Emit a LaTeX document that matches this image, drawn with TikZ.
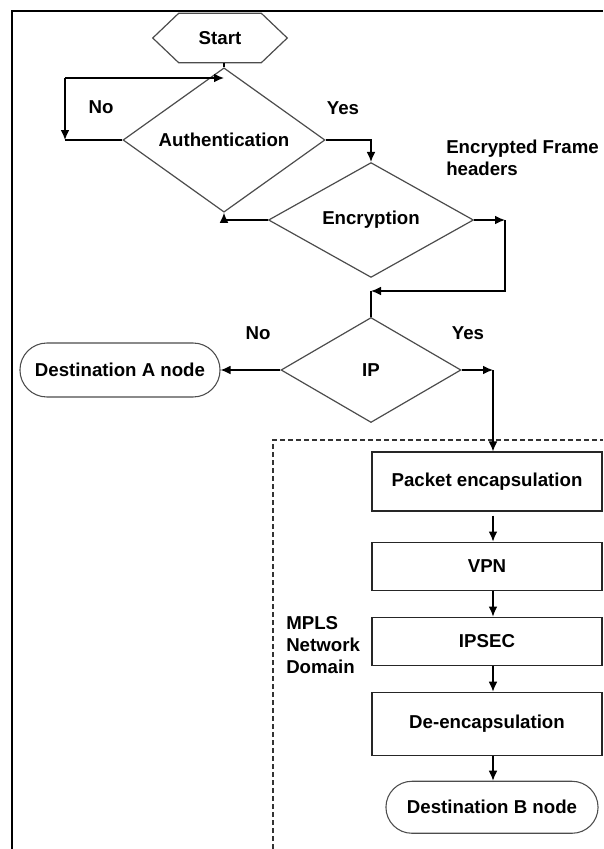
\documentclass[tikz,border=0pt]{standalone}
\usepackage{fontspec}
\setmainfont{Liberation Sans}
\usepackage{xcolor}
\usepackage{tikz}
\usetikzlibrary{arrows, arrows.meta}
\usetikzlibrary{positioning}
\usetikzlibrary{shapes.geometric, shapes.misc}
\tikzstyle{process} = [rectangle, minimum width=172.5pt, text centered, draw=black!85, line width=0.8pt, font=\fcfont]
\tikzstyle{decision} = [diamond, inner sep=0pt, text centered, draw=black!70, line width=0.9pt, font=\fcfont]
\tikzstyle{terminal} = [rounded rectangle, text centered, draw=black!70, line width=0.8pt, font=\fcfont]
\tikzstyle{tag} = [font=\fcfont, inner sep=0pt]
\tikzstyle{arrow} = [line width=0.9pt,->,>={Latex[length=7.5pt,width=6.5pt]}]
\tikzstyle{link} = [line width=0.9pt]
\newcommand{\fcfont}{\fontsize{14}{16.5}\selectfont\bfseries}

\begin{document}
\begin{tikzpicture}[x=0.75pt, y=-0.75pt]
    \useasboundingbox (0,0) rectangle (603,849);
    \draw[line width=0.9pt] (12,849) -- (12,11) -- (603,11);
    % top part
    \node(start)[minimum width=100.5pt, minimum height=36.75pt, inner sep=0pt, font=\fcfont] at (220,38) {Start};
    \draw[draw=black!70, line width=0.9pt] (start.west) -- ([xshift=19.5pt]start.north west) -- ([xshift=-19.5pt]start.north east) -- (start.east) -- ([xshift=-19.5pt]start.south east) -- ([xshift=19.5pt]start.south west) -- cycle;
    \node(auth)[decision, minimum width=151.5pt, minimum height=78pt] at (224,140) {Authentication};
    \node(encr)[decision, minimum width=153.75pt, minimum height=80pt] at (371,220) {Encryption};
    \node(ip)[decision, minimum width=135pt, minimum height=78.75pt] at (371,370) {IP};
    \node(destA)[terminal, minimum width=156.75pt, minimum height=40.5pt] at (120,370) {Destination A node};
    % MPLS domain
    \node(packet)[process, minimum height=44.25pt] at (487,481.5) {Packet encapsulation};
    \node(vpn)[process, minimum height=36pt, below=22.5pt of packet] {VPN};
    \node(ipsec)[process, minimum height=36pt, below=19.5pt of vpn] {IPSEC};
    \node(deenc)[process, minimum height=47.25pt, below=19.5pt of ipsec] {De-encapsulation};
    \node(destB)[terminal, minimum width=165.75pt, minimum height=39pt, below=18.75pt of deenc, xshift=3.75pt] {Destination B node};
    \draw[dashed, dash pattern=on 3.5pt off 2.5pt, line width=0.9pt, black!80] (273,849) -- (273,440) -- (603,440);
    % labels
    \node(no1)[tag] at (101,107) {No};
    \node(yes1)[tag] at (343,108) {Yes};
    \node(no2)[tag] at (258,333) {No};
    \node(yes2)[tag] at (468,333) {Yes};
    \node(frame)[tag, anchor=west, align=left] at (446,158) {Encrypted Frame\\headers};
    \node(mpls)[tag, anchor=west, align=left] at (286,645) {MPLS\\Network\\Domain};
    % connectors
    \coordinate (noL) at (65,78);
    \coordinate (noB) at (65,140);
    \coordinate (eR) at (505,220);
    \coordinate (eB) at (505,291);
    \coordinate (iR) at (493,370);
    \draw[link](start.south -| auth.north) -- (auth.north);
    \draw[link](auth.west) -- (noB);
    \draw[arrow](noL) -- (noB);
    \draw[arrow](noL) -- (noL -| auth.north);
    \draw[arrow](auth.east) -| (encr.north);
    \draw[arrow](encr.west) -| (auth.south);
    \draw[arrow](encr.east) -- (eR);
    \draw[arrow](eR) -- (eB) -- (eB -| ip.north);
    \draw[link](eB -| ip.north) -- (ip.north);
    \draw[arrow](ip.west) -- (destA.east);
    \draw[arrow](ip.east) -- (iR);
    \draw[arrow](iR) -- (iR |- packet.north);
    \draw[arrow]([yshift=-3pt]packet.south -| iR) -- (vpn.north -| iR);
    \draw[arrow](vpn.south -| iR) -- (ipsec.north -| iR);
    \draw[arrow](ipsec.south -| iR) -- (deenc.north -| iR);
    \draw[arrow](deenc.south -| iR) -- (destB.north -| iR);
  \end{tikzpicture}
\end{document}
